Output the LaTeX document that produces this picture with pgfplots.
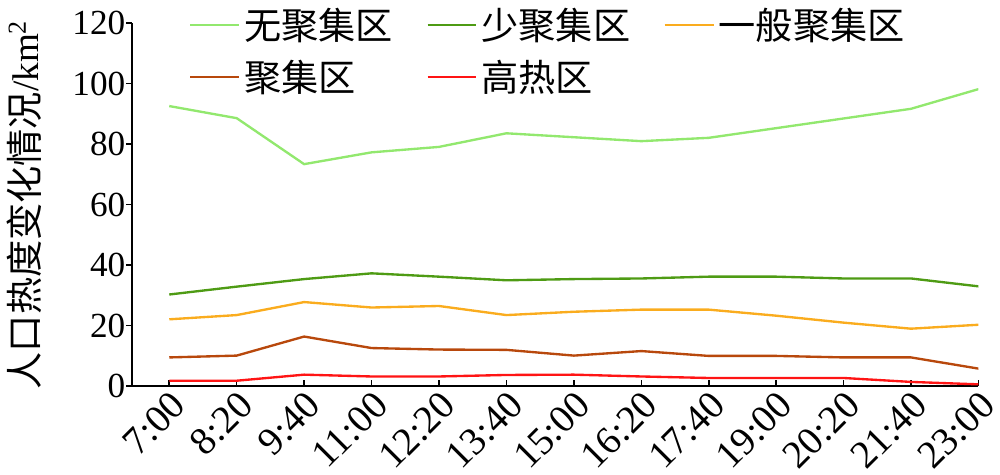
\documentclass[border=0pt]{standalone}
\usepackage{fontspec}
\setmainfont{Liberation Serif}
\newfontfamily\cjk{Noto Sans CJK SC}
\usepackage{pgfplots}
\usepackage{pgfplotstable}
\pgfplotsset{compat=1.18}

\definecolor{cnone}{RGB}{146,232,110}
\definecolor{cfew}{RGB}{78,155,20}
\definecolor{cmid}{RGB}{250,172,30}
\definecolor{cagg}{RGB}{184,72,12}
\definecolor{chot}{RGB}{255,20,20}

% x: 0 = 7:00 ... 12 = 23:00
\pgfplotstableread{
x  none  few   mid   agg   hot
0  92.6  30.3  22.1  9.5   1.8
1  88.6  32.9  23.5  10.1  1.8
2  73.4  35.4  27.8  16.4  3.8
3  77.3  37.3  26.0  12.6  3.2
4  79.1  36.2  26.5  12.1  3.2
5  83.6  35.0  23.5  12.0  3.7
6  82.3  35.4  24.6  10.1  3.8
7  81.0  35.6  25.3  11.6  3.2
8  82.1  36.2  25.3  10.0  2.7
9  85.3  36.2  23.3  10.0  2.7
10 88.5  35.6  21.0  9.5   2.7
11 91.7  35.6  19.0  9.5   1.4
12 98.2  33.0  20.3  5.8   0.6
}\heat

\begin{document}
\begin{tikzpicture}
\begin{axis}[
    scale only axis,
    width=432.5pt, height=185.5pt,
    xmin=-0.55, xmax=12, ymin=0, ymax=120,
    axis lines*=left,
    axis line style={line width=1pt},
    ytick={0,20,...,120},
    xtick=data,
    xticklabels={7:00,8:20,9:40,11:00,12:20,13:40,15:00,16:20,17:40,19:00,20:20,21:40,23:00},
    tick align=inside,
    major tick length=3pt,
    tick style={black, line width=0.8pt},
    ytick style={xshift=-3pt},
    yticklabel style={font=\fontsize{18}{20}\selectfont},
    xticklabel style={rotate=45, anchor=north east, inner sep=1pt,
                      font=\fontsize{20}{22}\selectfont},
    /pgf/number format/assume math mode=true,
    ylabel={{\cjk 人口热度变化情况}/km\textsuperscript{2}},
    ylabel style={at={(axis description cs:-0.128,0.5)}, anchor=center,
                  font=\fontsize{19}{22}\selectfont},
    legend style={draw=none, fill=none, at={(0.06,1.065)}, anchor=north west,
                  font=\cjk\fontsize{19}{24}\selectfont, row sep=5pt,
                  /tikz/every even column/.append style={column sep=15pt}},
    legend columns=3,
    legend cell align=left,
    legend image code/.code={\draw[#1] (0pt,0pt) -- (25pt,0pt);},
    every axis plot/.append style={line width=1.2pt},
]
\addplot[cnone] table[x=x, y=none] {\heat};
\addplot[cfew]  table[x=x, y=few]  {\heat};
\addplot[cmid]  table[x=x, y=mid]  {\heat};
\addplot[cagg]  table[x=x, y=agg]  {\heat};
\addplot[chot]  table[x=x, y=hot]  {\heat};
\legend{无聚集区,少聚集区,一般聚集区,聚集区,高热区}
\end{axis}
\end{tikzpicture}
\end{document}
